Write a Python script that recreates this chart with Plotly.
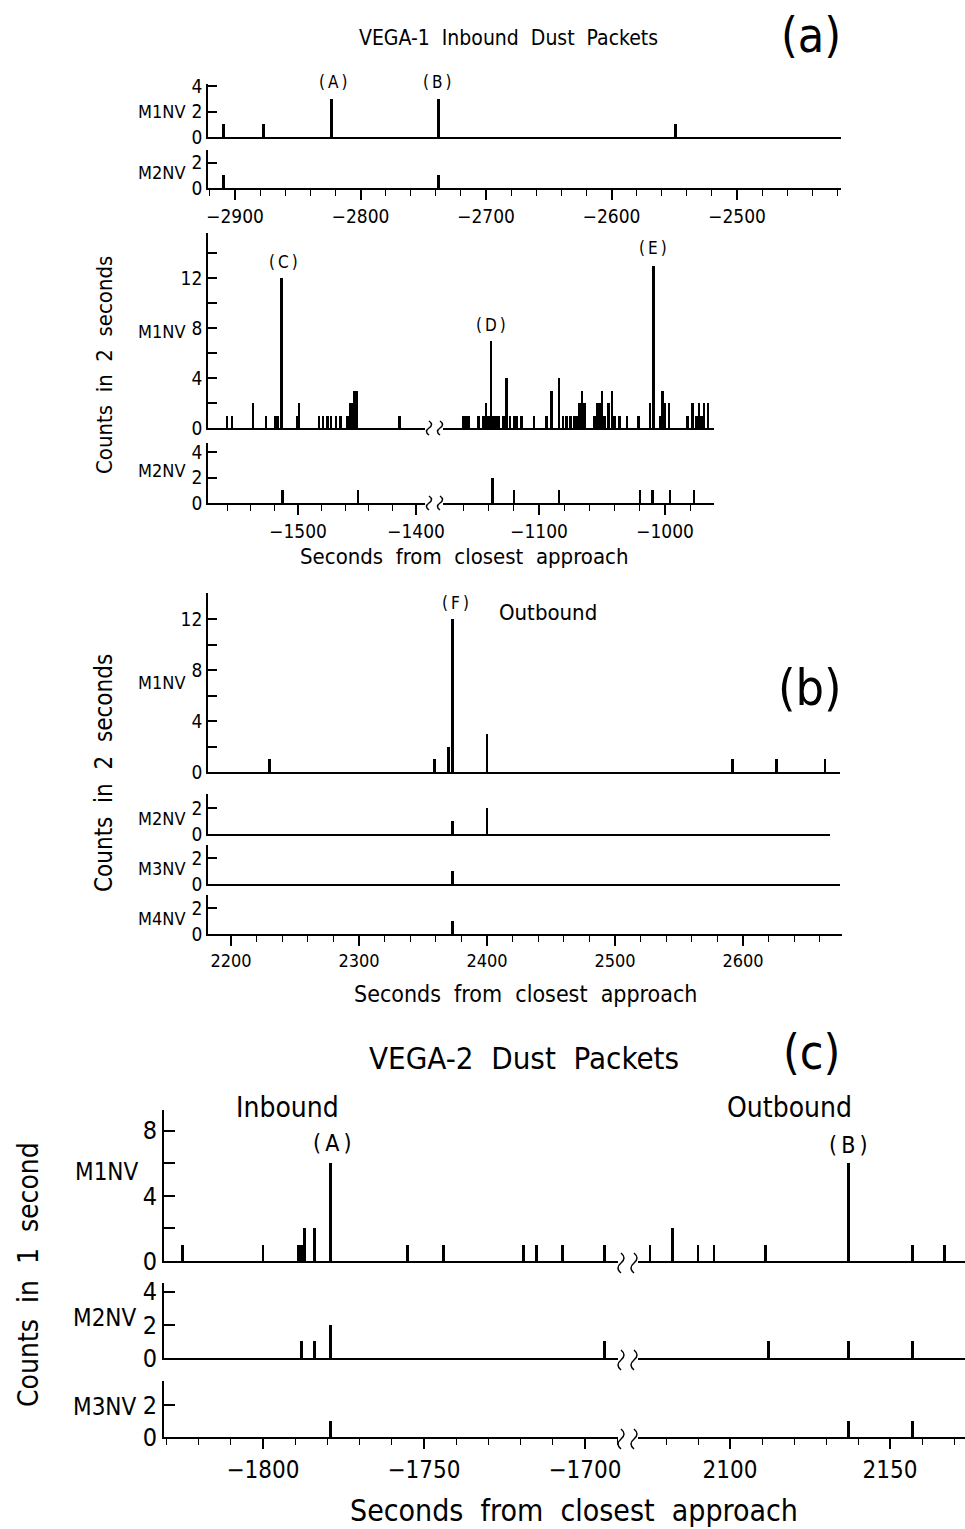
import plotly.graph_objects as go

W, H = 965, 1529
FONT = "DejaVu Sans Condensed, DejaVu Sans, sans-serif"

# ---------------- data ----------------
# (a) VEGA-1 inbound, first interval
a1_m1_t = [-2909, -2877, -2823, -2738, -2549]
a1_m1_n = [1, 1, 3, 3, 1]
a1_m2_t = [-2909, -2738]
a1_m2_n = [1, 1]

# (a) VEGA-1 inbound, second interval (broken axis)
a2_m1_t = [-1560, -1556, -1538, -1527, -1519, -1517, -1514, -1501, -1499, -1482,
           -1479, -1475, -1472, -1468, -1464, -1458, -1456, -1454, -1452, -1450, -1414,
           -1160, -1158, -1156, -1148, -1144, -1142, -1140, -1138, -1136, -1134,
           -1132, -1128, -1126, -1123, -1120, -1118, -1114, -1104, -1094, -1090,
           -1084, -1081, -1078, -1075, -1072, -1070, -1068, -1066, -1064, -1056,
           -1054, -1052, -1050, -1048, -1045, -1042, -1040, -1036, -1030, -1021,
           -1012, -1009, -1004, -1002, -1000, -997, -982, -978, -975, -973,
           -971, -969, -966]
a2_m1_n = [1, 1, 2, 1, 1, 1, 12, 1, 2, 1,
           1, 1, 1, 1, 1, 1, 2, 2, 3, 3, 1,
           1, 1, 1, 1, 1, 2, 1, 7, 1, 1,
           1, 1, 4, 1, 1, 1, 1, 1, 1, 3,
           4, 1, 1, 1, 1, 1, 2, 3, 2, 1,
           2, 2, 3, 1, 2, 3, 1, 1, 1, 1,
           2, 13, 1, 3, 2, 2, 1, 2, 1, 2,
           1, 2, 2]
a2_m2_t = [-1513, -1449, -1137, -1120, -1084, -1020, -1010, -996, -977]
a2_m2_n = [1, 1, 2, 1, 1, 1, 1, 1, 1]

# (b) VEGA-1 outbound
b_m1_t = [2230, 2359, 2370, 2373, 2400, 2592, 2626, 2664]
b_m1_n = [1, 1, 2, 12, 3, 1, 1, 1]
b_m2_t = [2373, 2400]
b_m2_n = [1, 2]
b_m3_t = [2373]
b_m3_n = [1]
b_m4_t = [2373]
b_m4_n = [1]

# (c) VEGA-2 (broken axis)
c_m1_t = [-1825, -1800, -1789, -1788, -1787, -1784, -1779, -1755, -1744, -1719,
          -1715, -1707, -1694, 2075, 2082, 2090, 2095, 2111, 2137, 2157, 2167]
c_m1_n = [1, 1, 1, 1, 2, 2, 6, 1, 1, 1,
          1, 1, 1, 1, 2, 1, 1, 1, 6, 1, 1]
c_m2_t = [-1788, -1784, -1779, -1694, 2112, 2137, 2157]
c_m2_n = [1, 1, 2, 1, 1, 1, 1]
c_m3_t = [-1779, 2137, 2157]
c_m3_n = [1, 1, 1]

# ---------------- helpers ----------------
fig = go.Figure()
layout = dict(template="none", width=W, height=H, autosize=False,
              margin=dict(l=0, r=0, t=0, b=0, pad=0, autoexpand=False),
              paper_bgcolor="white", plot_bgcolor="rgba(0,0,0,0)",
              showlegend=False, bargap=0,
              font=dict(family=FONT, color="black"))
annotations = []
shapes = []
counter = [0]


def fx(p):
    return p / W


def fy(p):
    return 1 - p / H


def axes(x0, x1, xref_val, xref_px, xscale, base_px, top_px, yscale,
         show_y=True, ydtick=2, yminor=None, xticks=False, xdtick=100,
         xminor=20, xfont=19, yfont=19, ylen=9):
    counter[0] += 1
    k = counter[0]
    sx = "" if k == 1 else str(k)
    xr = [xref_val + (x0 - xref_px) / xscale, xref_val + (x1 - xref_px) / xscale]
    yr = [0, (base_px - top_px) / yscale]
    xa = dict(domain=[fx(x0), fx(x1)], range=xr, anchor="y" + sx,
              showline=True, linecolor="black", linewidth=1.7, automargin=False,
              showgrid=False, zeroline=False, fixedrange=True)
    if xticks:
        xa.update(ticks="outside", ticklen=10, tickwidth=1.6, tickcolor="black",
                  tickmode="linear", tick0=0, dtick=xdtick,
                  showticklabels=True, tickfont=dict(size=xfont, family=FONT),
                  minor=dict(ticks="outside", ticklen=6, tickwidth=1.4,
                             tickcolor="black", tickmode="linear", tick0=0,
                             dtick=xminor))
    else:
        xa.update(ticks="", showticklabels=False)
    ya = dict(domain=[fy(base_px), fy(top_px)], range=yr, anchor="x" + sx,
              automargin=False, showgrid=False, zeroline=False, fixedrange=True)
    if show_y:
        ya.update(showline=True, linecolor="black", linewidth=1.7,
                  ticks="inside", ticklen=ylen, tickwidth=1.6, tickcolor="black",
                  tickmode="linear", tick0=0, dtick=ydtick,
                  tickfont=dict(size=yfont, family=FONT))
        if yminor:
            ya["minor"] = dict(ticks="inside", ticklen=ylen, tickwidth=1.6,
                               tickcolor="black", tickmode="linear", tick0=0,
                               dtick=yminor)
    else:
        ya.update(visible=False)
    layout["xaxis" + sx] = xa
    layout["yaxis" + sx] = ya
    return sx, xr


def bars(ax, t, n, bw):
    sx, xr = ax
    tt = [a for a in t if xr[0] <= a <= xr[1]]
    nn = [b for a, b in zip(t, n) if xr[0] <= a <= xr[1]]
    fig.add_trace(go.Bar(x=tt, y=nn, width=bw, xaxis="x" + sx, yaxis="y" + sx,
                         marker=dict(color="black", line=dict(width=0)),
                         hoverinfo="skip"))


def txt(s, x, y, size, xanchor="center", angle=0):
    annotations.append(dict(text=s, x=fx(x), y=fy(y), xref="paper", yref="paper",
                            showarrow=False, xanchor=xanchor, yanchor="middle",
                            textangle=angle,
                            font=dict(size=size, family=FONT, color="black")))


def brk(xc, yc, h=16, w=3):
    path = (f"M {fx(xc)},{fy(yc - h / 2)} "
            f"Q {fx(xc + 2 * w)},{fy(yc - h / 4)} {fx(xc)},{fy(yc)} "
            f"Q {fx(xc - 2 * w)},{fy(yc + h / 4)} {fx(xc)},{fy(yc + h / 2)}")
    shapes.append(dict(type="path", path=path, xref="paper", yref="paper",
                       line=dict(color="black", width=1.5)))


NB = "\u00a0"
TS = "\u2009"


def sp(words, k):
    return (NB * k).join(words)


def lab(c):
    return "(" + TS + c + TS + ")"


XT = sp(["Seconds", "from", "closest", "approach"], 2)

# ---------------- panel (a), first interval ----------------
ax = axes(208, 841, -2900, 235, 1.255, 137, 84, 12.75, ydtick=2)
bars(ax, a1_m1_t, a1_m1_n, 2.3)
ax = axes(208, 841, -2900, 235, 1.255, 188, 150, 12.75, ydtick=2, xticks=True)
bars(ax, a1_m2_t, a1_m2_n, 2.3)

txt(sp(["VEGA-1", "Inbound", "Dust", "Packets"], 2), 508, 38, 21)
txt("(a)", 811, 35, 48)
txt("M1NV", 187, 112, 18, xanchor="right")
txt("M2NV", 187, 172, 18, xanchor="right")
txt(lab("A"), 333, 82, 17)
txt(lab("B"), 437, 82, 17)

# ---------------- panel (a), second interval ----------------
axL = axes(208, 425, -1500, 298, 1.18, 428, 233, 12.5, ydtick=4, yminor=2)
bars(axL, a2_m1_t, a2_m1_n, 2.0)
axR = axes(443, 714, -1000, 665, 1.26, 428, 233, 12.5, show_y=False)
bars(axR, a2_m1_t, a2_m1_n, 2.0)
axL = axes(208, 425, -1500, 298, 1.18, 503, 443, 12.75, ydtick=2, xticks=True)
bars(axL, a2_m2_t, a2_m2_n, 2.0)
axR = axes(443, 714, -1000, 665, 1.26, 503, 443, 12.75, show_y=False, xticks=True)
bars(axR, a2_m2_t, a2_m2_n, 2.0)
for yb in (428, 503):
    brk(429, yb, 14, 2.5)
    brk(440, yb, 14, 2.5)

txt("M1NV", 187, 332, 18, xanchor="right")
txt("M2NV", 187, 470, 18, xanchor="right")
txt(lab("C"), 283, 262, 17)
txt(lab("D"), 491, 325, 17)
txt(lab("E"), 653, 248, 17)
txt(XT, 464, 556, 22)
txt(sp(["Counts", "in", "2", "seconds"], 2), 104, 365, 22, angle=-90)

# ---------------- panel (b) ----------------
ax = axes(208, 840, 2200, 231, 1.28, 772, 593, 12.75, ydtick=4, yminor=2)
bars(ax, b_m1_t, b_m1_n, 2.2)
ax = axes(208, 830, 2200, 231, 1.28, 834, 794, 13.0, ydtick=2)
bars(ax, b_m2_t, b_m2_n, 2.0)
ax = axes(208, 840, 2200, 231, 1.28, 884, 845, 13.0, ydtick=2)
bars(ax, b_m3_t, b_m3_n, 2.0)
ax = axes(208, 842, 2200, 231, 1.28, 934, 895, 13.0, ydtick=2, xticks=True, xfont=18)
bars(ax, b_m4_t, b_m4_n, 2.0)

txt("M1NV", 187, 682, 18, xanchor="right")
txt("M2NV", 187, 818, 18, xanchor="right")
txt("M3NV", 187, 868, 18, xanchor="right")
txt("M4NV", 187, 918, 18, xanchor="right")
txt(lab("F"), 455, 603, 17)
txt("Outbound", 548, 612, 22)
txt("(b)", 810, 688, 50)
txt(XT, 525, 994, 23)
txt(sp(["Counts", "in", "2", "seconds"], 2), 104, 773, 24, angle=-90)

# ---------------- panel (c) ----------------
axL = axes(164, 618, -1800, 263, 3.22, 1261, 1110, 16.3, ydtick=4, yminor=2,
           yfont=25, ylen=11)
bars(axL, c_m1_t, c_m1_n, 0.9)
axR = axes(638, 965, 2100, 730, 3.2, 1261, 1110, 16.3, show_y=False)
bars(axR, c_m1_t, c_m1_n, 0.9)
axL = axes(164, 618, -1800, 263, 3.22, 1358, 1283, 16.6, ydtick=2, yfont=25, ylen=11)
bars(axL, c_m2_t, c_m2_n, 0.9)
axR = axes(638, 965, 2100, 730, 3.2, 1358, 1283, 16.6, show_y=False)
bars(axR, c_m2_t, c_m2_n, 0.9)
axL = axes(164, 618, -1800, 263, 3.22, 1437, 1381, 16.0, ydtick=2, yfont=25,
           ylen=11, xticks=True, xdtick=50, xminor=10, xfont=24)
bars(axL, c_m3_t, c_m3_n, 0.9)
axR = axes(638, 965, 2100, 730, 3.2, 1437, 1381, 16.0, show_y=False,
           xticks=True, xdtick=50, xminor=10, xfont=24)
bars(axR, c_m3_t, c_m3_n, 0.9)
for yb in (1261, 1358, 1437):
    brk(621, yb + 2, 20, 3)
    brk(634, yb + 2, 20, 3)

txt(sp(["VEGA-2", "Dust", "Packets"], 2), 524, 1058, 31)
txt("(c)", 811, 1052, 48)
txt("Inbound", 287, 1107, 28)
txt("Outbound", 789, 1107, 28)
txt(lab("A"), 332, 1143, 23)
txt(lab("B"), 848, 1145, 23)
txt("M1NV", 141, 1172, 24, xanchor="right")
txt("M2NV", 139, 1318, 24, xanchor="right")
txt("M3NV", 139, 1407, 24, xanchor="right")
txt(XT, 574, 1510, 30)
txt(sp(["Counts", "in", "1", "second"], 2), 28, 1275, 28, angle=-90)

layout["annotations"] = annotations
layout["shapes"] = shapes
fig.update_layout(**layout)
fig.write_html("out.html")
